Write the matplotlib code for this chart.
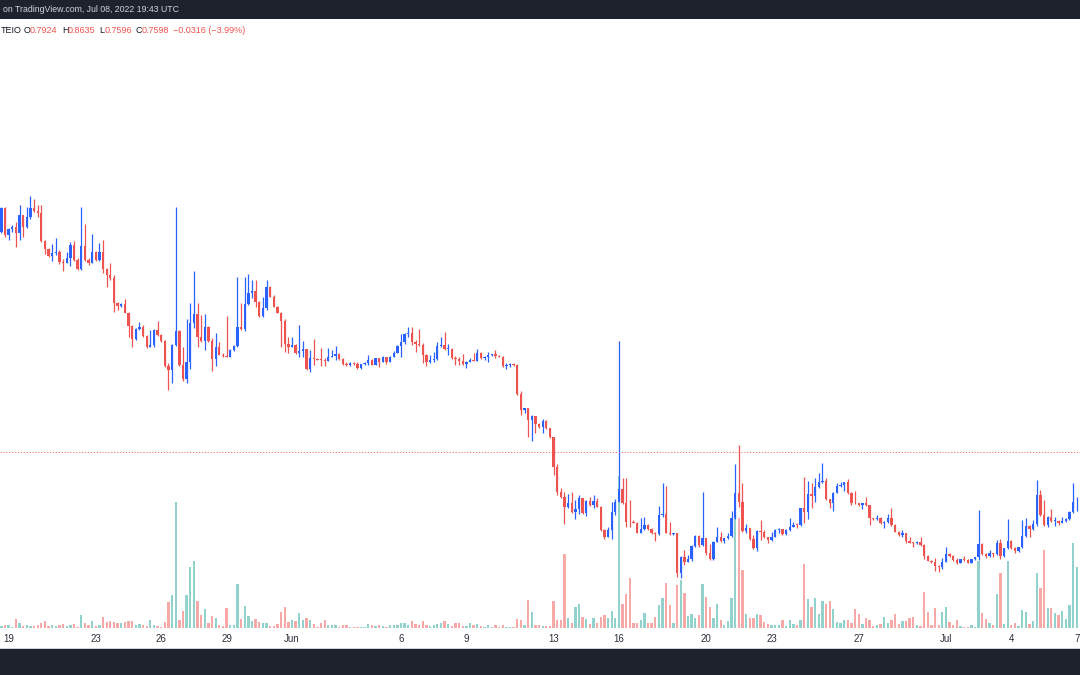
import numpy as np
import pandas as pd
import matplotlib
matplotlib.use("Agg")
import matplotlib.pyplot as plt
from matplotlib.patches import Rectangle

plt.rcParams["font.family"] = ["Liberation Sans", "DejaVu Sans"]

# 4h candles, first bar visible at the left edge is 2022-05-18 16:00 UTC
first_bar = "2022-05-18 16:00"
first_open = 1.875

close = [
    1.945, 1.865, 1.882, 1.890, 1.870, 1.925, 1.888, 1.920, 1.945, 1.938,
    1.932, 1.848, 1.822, 1.803, 1.810, 1.814, 1.785, 1.782, 1.795, 1.835,
    1.790, 1.763, 1.832, 1.790, 1.782, 1.815, 1.790, 1.813, 1.762, 1.745,
    1.737, 1.660, 1.652, 1.658, 1.632, 1.592, 1.552, 1.582, 1.588, 1.562,
    1.528, 1.535, 1.580, 1.565, 1.548, 1.473, 1.460, 1.535, 1.577, 1.475,
    1.432, 1.485, 1.600, 1.628, 1.560, 1.548, 1.590, 1.548, 1.493, 1.528,
    1.506, 1.503, 1.500, 1.520, 1.532, 1.590, 1.582, 1.658, 1.690, 1.698,
    1.665, 1.622, 1.645, 1.710, 1.680, 1.650, 1.632, 1.608, 1.538, 1.530,
    1.534, 1.510, 1.518, 1.522, 1.462, 1.495, 1.492, 1.491, 1.490, 1.488,
    1.500, 1.503, 1.508, 1.493, 1.478, 1.475, 1.480, 1.479, 1.465, 1.477,
    1.482, 1.490, 1.476, 1.495, 1.485, 1.498, 1.485, 1.500, 1.512, 1.532,
    1.545, 1.568, 1.572, 1.545, 1.538, 1.535, 1.504, 1.485, 1.490, 1.492,
    1.532, 1.534, 1.522, 1.524, 1.495, 1.492, 1.488, 1.478, 1.485, 1.490,
    1.488, 1.510, 1.495, 1.498, 1.506, 1.507, 1.502, 1.500, 1.472, 1.476,
    1.478, 1.474, 1.388, 1.340, 1.345, 1.310, 1.322, 1.298, 1.290, 1.308,
    1.285, 1.258, 1.168, 1.095, 1.078, 1.050, 1.060, 1.035, 1.042, 1.075,
    1.030, 1.068, 1.055, 1.068, 1.050, 0.980, 0.960, 0.980, 1.035, 1.065,
    1.102, 1.060, 1.005, 1.003, 1.000, 0.972, 0.983, 0.994, 0.982, 0.970,
    0.968, 1.025, 1.027, 0.972, 0.968, 0.970, 0.852, 0.900, 0.885, 0.892,
    0.932, 0.962, 0.935, 0.955, 0.912, 0.892, 0.945, 0.960, 0.948, 0.955,
    0.962, 1.015, 1.092, 1.065, 0.978, 0.985, 0.952, 0.925, 0.978, 0.975,
    0.958, 0.950, 0.960, 0.980, 0.982, 0.967, 0.980, 0.990, 0.996, 0.994,
    1.045, 1.035, 1.088, 1.082, 1.110, 1.124, 1.128, 1.072, 1.062, 1.092,
    1.112, 1.116, 1.123, 1.090, 1.062, 1.060, 1.055, 1.060, 1.054, 1.015,
    1.012, 1.017, 1.000, 1.005, 1.015, 0.995, 0.975, 0.965, 0.970, 0.948,
    0.942, 0.940, 0.945, 0.935, 0.902, 0.888, 0.885, 0.872, 0.870, 0.885,
    0.908, 0.902, 0.890, 0.882, 0.892, 0.890, 0.882, 0.892, 0.898, 0.938,
    0.908, 0.902, 0.910, 0.908, 0.942, 0.902, 0.925, 0.948, 0.925, 0.917,
    0.928, 0.962, 0.992, 0.982, 0.998, 1.085, 1.025, 0.995, 1.020, 1.007,
    1.008, 1.002, 1.008, 1.014, 1.035, 1.063, 1.065,
]

high = [
    1.950, 1.948, 1.885, 1.894, 1.903, 1.955, 1.924, 1.950, 1.982, 1.972,
    1.955, 1.956, 1.850, 1.825, 1.838, 1.857, 1.820, 1.792, 1.814, 1.845,
    1.848, 1.795, 1.950, 1.897, 1.795, 1.868, 1.817, 1.840, 1.850, 1.765,
    1.780, 1.744, 1.665, 1.662, 1.673, 1.635, 1.595, 1.585, 1.605, 1.595,
    1.564, 1.580, 1.582, 1.607, 1.567, 1.550, 1.480, 1.538, 1.950, 1.580,
    1.528, 1.612, 1.660, 1.758, 1.662, 1.625, 1.628, 1.592, 1.555, 1.570,
    1.544, 1.512, 1.622, 1.522, 1.535, 1.740, 1.660, 1.740, 1.747, 1.730,
    1.730, 1.667, 1.680, 1.730, 1.712, 1.686, 1.652, 1.634, 1.612, 1.560,
    1.560, 1.537, 1.595, 1.548, 1.524, 1.520, 1.553, 1.497, 1.525, 1.497,
    1.525, 1.520, 1.532, 1.510, 1.495, 1.485, 1.485, 1.483, 1.484, 1.479,
    1.484, 1.505, 1.494, 1.497, 1.497, 1.502, 1.500, 1.502, 1.518, 1.534,
    1.568, 1.570, 1.590, 1.588, 1.550, 1.582, 1.540, 1.507, 1.505, 1.515,
    1.545, 1.560, 1.575, 1.538, 1.527, 1.502, 1.500, 1.507, 1.487, 1.495,
    1.512, 1.522, 1.515, 1.502, 1.515, 1.509, 1.520, 1.505, 1.502, 1.480,
    1.480, 1.480, 1.478, 1.398, 1.347, 1.347, 1.324, 1.320, 1.302, 1.312,
    1.310, 1.287, 1.260, 1.178, 1.105, 1.095, 1.088, 1.095, 1.070, 1.085,
    1.077, 1.070, 1.080, 1.085, 1.075, 1.052, 0.982, 0.988, 1.065, 1.072,
    1.548, 1.135, 1.135, 1.070, 1.010, 1.004, 1.015, 1.018, 0.997, 0.985,
    0.974, 1.052, 1.122, 1.112, 1.005, 0.972, 0.970, 0.902, 0.920, 0.905,
    0.934, 0.965, 0.965, 1.095, 0.957, 0.938, 0.947, 0.988, 0.975, 0.957,
    0.970, 1.038, 1.178, 1.235, 1.122, 0.997, 0.987, 0.965, 0.980, 1.010,
    0.980, 0.960, 0.975, 0.982, 0.985, 0.984, 0.982, 1.015, 1.005, 1.000,
    1.047, 1.138, 1.128, 1.120, 1.135, 1.150, 1.180, 1.135, 1.074, 1.094,
    1.122, 1.125, 1.125, 1.132, 1.095, 1.097, 1.062, 1.062, 1.080, 1.056,
    1.017, 1.025, 1.020, 1.007, 1.028, 1.045, 0.997, 0.977, 0.980, 0.972,
    0.960, 0.945, 0.947, 0.958, 0.938, 0.905, 0.890, 0.895, 0.874, 0.895,
    0.930, 0.910, 0.904, 0.895, 0.894, 0.902, 0.892, 0.894, 0.900, 1.040,
    0.942, 0.910, 0.920, 0.912, 0.950, 0.952, 0.927, 1.012, 0.950, 0.930,
    0.930, 1.010, 1.015, 0.994, 1.010, 1.130, 1.100, 1.070, 1.022, 1.042,
    1.020, 1.010, 1.020, 1.016, 1.037, 1.120, 1.078,
]

low = [
    1.872, 1.860, 1.850, 1.873, 1.828, 1.850, 1.860, 1.885, 1.912, 1.934,
    1.920, 1.845, 1.808, 1.800, 1.787, 1.805, 1.778, 1.758, 1.785, 1.772,
    1.787, 1.760, 1.760, 1.787, 1.776, 1.780, 1.787, 1.787, 1.750, 1.710,
    1.730, 1.635, 1.640, 1.650, 1.630, 1.560, 1.530, 1.550, 1.580, 1.560,
    1.526, 1.528, 1.530, 1.563, 1.545, 1.470, 1.400, 1.422, 1.532, 1.472,
    1.428, 1.420, 1.462, 1.585, 1.530, 1.545, 1.520, 1.545, 1.457, 1.472,
    1.504, 1.500, 1.498, 1.498, 1.517, 1.528, 1.579, 1.578, 1.655, 1.675,
    1.650, 1.620, 1.620, 1.640, 1.678, 1.648, 1.630, 1.530, 1.515, 1.512,
    1.528, 1.508, 1.500, 1.498, 1.460, 1.455, 1.475, 1.490, 1.473, 1.473,
    1.486, 1.500, 1.490, 1.491, 1.476, 1.472, 1.473, 1.476, 1.463, 1.464,
    1.475, 1.475, 1.474, 1.474, 1.470, 1.483, 1.478, 1.483, 1.498, 1.510,
    1.500, 1.538, 1.560, 1.535, 1.513, 1.533, 1.480, 1.472, 1.482, 1.485,
    1.490, 1.530, 1.520, 1.505, 1.493, 1.475, 1.475, 1.475, 1.467, 1.483,
    1.486, 1.486, 1.493, 1.490, 1.485, 1.501, 1.495, 1.498, 1.470, 1.462,
    1.468, 1.472, 1.386, 1.325, 1.330, 1.260, 1.248, 1.272, 1.286, 1.272,
    1.283, 1.256, 1.145, 1.085, 1.075, 0.998, 1.045, 1.032, 1.012, 1.028,
    1.028, 1.022, 1.053, 1.045, 1.048, 0.978, 0.952, 0.958, 0.952, 1.025,
    1.065, 1.058, 0.988, 0.988, 1.000, 0.970, 0.970, 0.981, 0.980, 0.968,
    0.948, 0.966, 1.020, 0.970, 0.965, 0.964, 0.840, 0.835, 0.875, 0.883,
    0.888, 0.930, 0.928, 0.932, 0.905, 0.890, 0.890, 0.943, 0.945, 0.942,
    0.953, 0.960, 1.012, 1.050, 0.975, 0.970, 0.950, 0.923, 0.918, 0.950,
    0.956, 0.942, 0.948, 0.958, 0.970, 0.965, 0.965, 0.978, 0.989, 0.985,
    0.992, 1.000, 1.012, 1.045, 1.065, 1.107, 1.122, 1.070, 1.045, 1.038,
    1.090, 1.110, 1.097, 1.088, 1.055, 1.058, 1.053, 1.042, 1.052, 0.995,
    1.010, 1.010, 0.998, 0.985, 1.000, 0.993, 0.973, 0.962, 0.960, 0.942,
    0.940, 0.928, 0.937, 0.933, 0.892, 0.886, 0.882, 0.858, 0.855, 0.862,
    0.883, 0.899, 0.888, 0.878, 0.880, 0.888, 0.880, 0.880, 0.891, 0.890,
    0.906, 0.895, 0.900, 0.898, 0.905, 0.892, 0.900, 0.923, 0.923, 0.912,
    0.914, 0.926, 0.960, 0.960, 0.980, 0.993, 1.023, 0.993, 0.990, 1.005,
    0.992, 0.995, 1.000, 1.005, 1.010, 1.030, 1.038,
]

# volume in thousands
volume = [
    6, 8, 8, 4, 27, 16, 6, 8, 6, 6,
    8, 16, 21, 6, 10, 6, 10, 12, 6, 10,
    12, 4, 38, 14, 10, 21, 6, 10, 32, 18,
    21, 18, 15, 15, 18, 21, 21, 10, 12, 10,
    6, 24, 10, 6, 4, 18, 78, 98, 378, 24,
    52, 100, 182, 200, 80, 38, 58, 14, 36, 31,
    9, 6, 59, 8, 10, 131, 27, 65, 36, 21,
    27, 18, 15, 14, 6, 6, 12, 49, 63, 18,
    23, 21, 44, 24, 30, 23, 12, 3, 15, 23,
    9, 8, 9, 3, 8, 8, 3, 3, 3, 3,
    3, 12, 9, 6, 8, 6, 4, 8, 9, 8,
    15, 16, 9, 21, 12, 9, 21, 9, 6, 8,
    12, 15, 21, 12, 5, 15, 15, 6, 6, 16,
    8, 12, 6, 4, 9, 4, 8, 4, 8, 4,
    4, 3, 27, 23, 9, 84, 47, 9, 9, 5,
    5, 7, 80, 24, 24, 221, 31, 15, 63, 71,
    33, 26, 12, 31, 14, 33, 40, 30, 51, 30,
    456, 71, 102, 150, 14, 14, 24, 44, 16, 14,
    33, 69, 89, 134, 69, 16, 128, 144, 106, 36,
    42, 30, 40, 132, 93, 63, 31, 71, 23, 9,
    21, 89, 345, 330, 174, 42, 30, 30, 42, 38,
    18, 12, 9, 10, 9, 23, 5, 24, 12, 8,
    23, 191, 87, 63, 89, 41, 80, 71, 80, 56,
    18, 14, 24, 24, 16, 56, 41, 12, 30, 24,
    5, 8, 12, 33, 15, 23, 41, 12, 21, 21,
    30, 33, 8, 6, 107, 49, 9, 60, 8, 48,
    63, 18, 10, 24, 6, 3, 3, 9, 3, 202,
    45, 27, 15, 9, 102, 164, 12, 200, 9, 15,
    6, 54, 48, 12, 21, 166, 120, 233, 60, 60,
    45, 38, 51, 27, 69, 255, 182,
]

last_price = 1.214

tick_days = ["2022-05-19", "2022-05-23", "2022-05-26", "2022-05-29", "2022-06-01",
             "2022-06-06", "2022-06-09", "2022-06-13", "2022-06-16", "2022-06-20",
             "2022-06-23", "2022-06-27", "2022-07-01", "2022-07-04", "2022-07-07"]
tick_labels = ["19", "23", "26", "29", "Jun", "6", "9", "13", "16", "20",
               "23", "27", "Jul", "4", "7"]

header_time = "on TradingView.com, Jul 08, 2022 19:43 UTC"
symbol = "TEIO"
ohlc_names = ["O", "H", "L", "C"]
ohlc_values = ["0.7924", "0.8635", "0.7596", "0.7598"]
change_text = "\u22120.0316 (\u22123.99%)"

UP = "#2962ff"
DOWN = "#ef5350"
VOL_UP = "#92d2cc"
VOL_DOWN = "#f7a9a7"
DARK = "#1e222d"
TEXT = "#131722"

close = np.array(close)
high = np.array(high)
low = np.array(low)
volume = np.array(volume)
opens = np.r_[first_open, close[:-1]]   # 4h bars open at the previous close

dates = pd.date_range(first_bar, periods=len(close), freq="4h")
pos = np.arange(len(close))
tick_pos = [dates.get_loc(pd.Timestamp(d)) for d in tick_days]

up = close >= opens
body_lo = np.minimum(opens, close)
body_hi = np.maximum(opens, close)
colors = np.where(up, UP, DOWN)
vcolors = np.where(up, VOL_UP, VOL_DOWN)

W, H = 1080, 675
fig = plt.figure(figsize=(W / 100, H / 100), dpi=100)
fig.patch.set_facecolor("white")

def fy(y):
    return 1 - y / H

rect = [0, fy(630), 1, (630 - 20) / H]
vax = fig.add_axes(rect)
ax = fig.add_axes(rect)
ax.patch.set_alpha(0)

xlim = (-0.37, 296.9)

# volume pane
vax.bar(pos, volume, width=0.64, color=vcolors, linewidth=0)
vax.set_ylim(-6, 1824)
vax.set_xlim(*xlim)
vax.set_yticks([])
vax.set_xticks(tick_pos, tick_labels)
vax.tick_params(axis="x", length=0, pad=3.0, labelsize=7, labelcolor="#2a2e39")
for s in vax.spines.values():
    s.set_visible(False)

# candles
ax.vlines(pos, np.minimum(low, body_lo), np.maximum(high, body_hi), colors=colors, linewidth=0.9)
ax.bar(pos, np.maximum(body_hi - body_lo, 0.0025), bottom=body_lo, width=0.64,
       color=colors, linewidth=0)
ax.axhline(last_price, color=DOWN, linewidth=0.7, linestyle=(0, (1.2, 1.8)), alpha=0.85)
ax.set_xlim(*xlim)
ax.set_ylim(0.680, 2.510)
ax.set_xticks([])
ax.set_yticks([])
for s in ax.spines.values():
    s.set_visible(False)

# top and bottom bars
fig.add_artist(Rectangle((0, fy(19)), 1, 19 / H, transform=fig.transFigure,
                         facecolor=DARK, edgecolor="none"))
fig.add_artist(Rectangle((0, 0), 1, (H - 649) / H, transform=fig.transFigure,
                         facecolor=DARK, edgecolor="none"))
fig.add_artist(Rectangle((0, fy(649)), 1, 1 / H, transform=fig.transFigure,
                         facecolor="#d1d4dc", edgecolor="none"))

fig.text(3 / W, fy(10), header_time, color="#d1d4dc", fontsize=6.3, va="center", ha="left")

# legend line with OHLC values
ty = fy(30.5)
fig.text(1 / W, ty, symbol, color=TEXT, fontsize=6.5, va="center", ha="left")
name_x = [24, 62, 99, 136]
for nx, name, val in zip(name_x, ohlc_names, ohlc_values):
    fig.text(nx / W, ty, name, color=TEXT, fontsize=6.5, va="center", ha="left")
    fig.text((nx + 5.5) / W, ty, val, color=DOWN, fontsize=6.5, va="center", ha="left")
fig.text(173 / W, ty, change_text, color=DOWN, fontsize=6.5, va="center", ha="left")

fig.savefig("out.png", dpi=100)
